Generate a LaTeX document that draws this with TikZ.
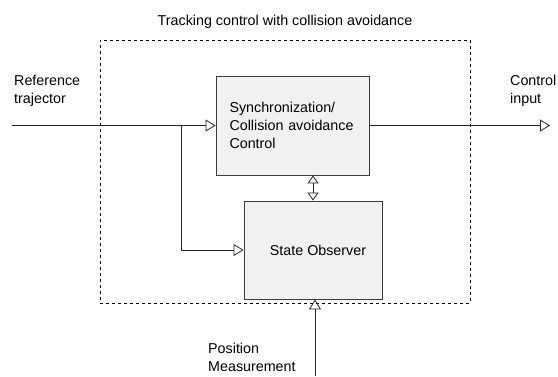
\documentclass[tikz,border=0pt]{standalone}
\usepackage{fontspec}
\setmainfont{Liberation Sans}
\usetikzlibrary{positioning, arrows.meta}
\definecolor{blockfill}{RGB}{240,241,240}
\definecolor{blockline}{RGB}{60,60,60}

\begin{document}
\begin{tikzpicture}[x=1pt, y=-1pt, font=\fontsize{14.3}{18}\selectfont,
    block/.style={draw=blockline, fill=blockfill, line width=0.9pt, minimum width=138pt, minimum height=98pt},
    signal/.style={-{Triangle[open, length=10pt, width=12pt]}, line width=0.8pt, draw=black!85},
    label/.style={align=left, inner sep=0pt},
]
    \useasboundingbox (0,0) rectangle (558,376);
    % dashed frame round the controller
    \node[draw, dashed, line width=0.6pt, minimum width=370pt, minimum height=263pt] (frame) at (285,171.5) {};
    \node[anchor=base, inner sep=0pt] (title) at (frame.north |- 0,25) {Tracking control with collision avoidance};

    \node[block, minimum width=153pt, minimum height=99pt, text width=126pt, inner xsep=13.5pt, align=left] (sync) at (292.5,125.5)
        {Synchronization/\\Collision avoidance\\Control};
    \node[block] (obs) at (313,250) {\hspace*{10pt}State Observer};

    \coordinate (refin) at (12,125.5);
    \coordinate (split) at (181,125.5);
    \coordinate (ctrlout) at (550,125.5);
    \coordinate (meas) at (315,376);

    \draw[signal] (refin) -- (sync.west);
    \draw[signal] (split) |- (obs.west);
    \draw[signal] (sync.east) -- (ctrlout);
    \draw[signal, {Triangle[open, length=8pt, width=11pt]}-{Triangle[open, length=8pt, width=11pt]}] (obs.north |- sync.south) -- (obs.north);
    \draw[signal] (meas) -- (meas |- obs.south);

    % multi-line labels sit on the baseline of their last line
    \node[label, anchor=base west] (reflabel) at (14,103) {Reference\\trajector};
    \node[label, anchor=base west] (ctrllabel) at (510,103) {Control\\input};
    \node[label, anchor=base west] (measlabel) at (208,371) {Position\\Measurement};
\end{tikzpicture}
\end{document}
